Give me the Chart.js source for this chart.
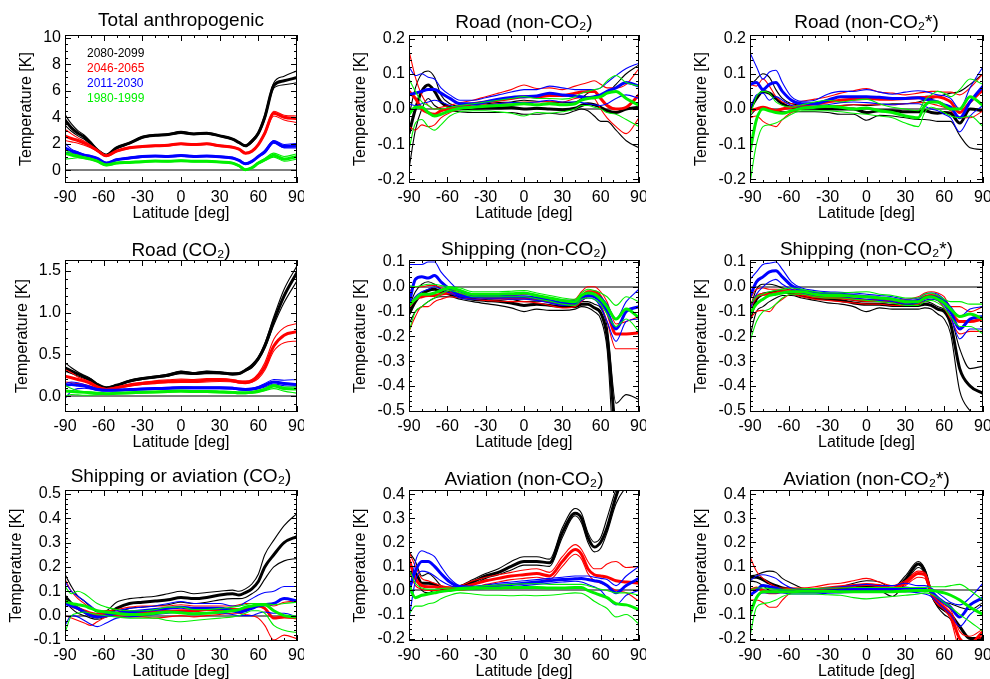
<!DOCTYPE html>
<html>
<head>
<meta charset="utf-8">
<script src="https://cdn.jsdelivr.net/npm/chart.js@4.4.1/dist/chart.umd.min.js"></script>
<style>
  body { margin: 0; background: #fff; }
  #wrap { position: relative; width: 990px; height: 679px; overflow: hidden; background: #fff; }
  #wrap canvas { position: absolute; }
</style>
</head>
<body>
<div id="wrap"></div>
<script>
const LATS = [-90, -85, -80, -75, -70, -65, -58, -50, -40, -30, -20, -10, 0, 10, 20, 30, 40, 45, 50, 55, 60, 65, 72, 80, 90];
const LAT_TICKS = [-90, -60, -30, 0, 30, 60, 90];

const PERIODS = ["2080-2099", "2046-2065", "2011-2030", "1980-1999"];
const PERIOD_COLORS = ["#000000", "#ff0000", "#0000ff", "#00f000"];

// each series: [mean, upper, lower] on LATS
const total_2080 = [
  [3.8, 3.2, 2.8, 2.5, 2.05, 1.55, 1.15, 1.7, 2.05, 2.5, 2.65, 2.7, 2.85, 2.75, 2.8, 2.6, 2.35, 2.1, 1.85, 2.2, 2.8, 4.0, 6.4, 6.75, 7.0],
  [4.2, 3.5, 3.0, 2.65, 2.15, 1.6, 1.2, 1.75, 2.1, 2.55, 2.7, 2.75, 2.95, 2.8, 2.85, 2.65, 2.4, 2.15, 1.9, 2.3, 2.9, 4.2, 6.6, 7.1, 7.5],
  [3.4, 2.95, 2.6, 2.35, 1.95, 1.5, 1.1, 1.65, 2.0, 2.45, 2.6, 2.65, 2.8, 2.7, 2.75, 2.55, 2.3, 2.05, 1.8, 2.1, 2.7, 3.85, 6.2, 6.45, 6.6],
];
const total_2046 = [
  [2.6, 2.4, 2.25, 2.05, 1.8, 1.5, 1.1, 1.45, 1.7, 1.8, 1.85, 1.9, 2.0, 1.95, 2.0, 1.85, 1.75, 1.6, 1.3, 1.45, 1.95, 2.8, 4.3, 4.0, 3.9],
  [3.1, 2.75, 2.45, 2.2, 1.9, 1.55, 1.15, 1.5, 1.75, 1.85, 1.9, 1.95, 2.05, 2.0, 2.05, 1.9, 1.8, 1.65, 1.35, 1.5, 2.0, 2.9, 4.45, 4.15, 4.1],
  [2.25, 2.15, 2.05, 1.9, 1.7, 1.45, 1.05, 1.4, 1.65, 1.75, 1.8, 1.85, 1.95, 1.9, 1.95, 1.8, 1.7, 1.55, 1.25, 1.4, 1.9, 2.7, 4.1, 3.8, 3.6],
];
const total_2011 = [
  [1.7, 1.45, 1.3, 1.15, 1.05, 0.9, 0.55, 0.8, 0.93, 1.05, 1.08, 1.05, 1.12, 1.05, 1.08, 1.03, 0.93, 0.75, 0.5, 0.68, 1.05, 1.4, 2.15, 1.8, 1.85],
  [2.05, 1.6, 1.4, 1.2, 1.1, 0.95, 0.6, 0.85, 0.98, 1.1, 1.12, 1.1, 1.18, 1.1, 1.12, 1.08, 0.98, 0.8, 0.55, 0.72, 1.1, 1.5, 2.25, 1.95, 2.05],
  [1.35, 1.3, 1.2, 1.1, 1.0, 0.85, 0.5, 0.75, 0.88, 1.0, 1.03, 1.0, 1.06, 1.0, 1.03, 0.98, 0.88, 0.7, 0.45, 0.62, 1.0, 1.3, 2.05, 1.7, 1.7],
];
const total_1980 = [
  [1.3, 1.15, 1.05, 0.95, 0.85, 0.7, 0.4, 0.55, 0.6, 0.66, 0.7, 0.68, 0.73, 0.68, 0.68, 0.63, 0.55, 0.35, 0.05, 0.2, 0.55, 0.8, 1.15, 0.85, 1.05],
  [1.55, 1.3, 1.15, 1.0, 0.9, 0.75, 0.45, 0.6, 0.65, 0.7, 0.74, 0.72, 0.77, 0.72, 0.72, 0.67, 0.6, 0.4, 0.1, 0.25, 0.62, 0.9, 1.3, 1.05, 1.25],
  [0.85, 0.9, 0.95, 0.9, 0.8, 0.65, 0.35, 0.5, 0.55, 0.62, 0.66, 0.64, 0.69, 0.64, 0.64, 0.59, 0.5, 0.3, 0.02, 0.15, 0.48, 0.72, 1.0, 0.7, 0.85],
];

const roadNon_2080 = [
  [-0.07, 0.0, 0.05, 0.068, 0.05, 0.02, 0.005, 0.0, 0.002, 0.003, 0.003, 0.004, 0.0, 0.002, 0.0, -0.002, 0.002, 0.01, 0.015, 0.012, 0.005, -0.005, -0.01, 0.0, 0.005],
  [-0.02, 0.06, 0.1, 0.108, 0.09, 0.04, 0.015, 0.008, 0.012, 0.015, 0.018, 0.02, 0.025, 0.022, 0.02, 0.018, 0.02, 0.03, 0.045, 0.05, 0.035, 0.045, 0.07, 0.1, 0.125],
  [-0.17, -0.06, 0.0, 0.03, 0.01, 0.0, -0.005, -0.008, -0.01, -0.01, -0.01, -0.01, -0.015, -0.015, -0.012, -0.015, -0.005, 0.0, -0.005, -0.02, -0.035, -0.035, -0.06, -0.09, -0.11],
];
const roadNon_2046 = [
  [0.05, 0.03, 0.0, -0.01, -0.015, -0.005, 0.0, 0.008, 0.015, 0.02, 0.025, 0.03, 0.035, 0.035, 0.038, 0.038, 0.045, 0.048, 0.05, 0.05, 0.03, 0.01, 0.0, 0.005, 0.04],
  [0.165, 0.09, 0.04, 0.01, 0.0, 0.005, 0.01, 0.018, 0.025, 0.035, 0.045, 0.055, 0.068, 0.058, 0.06, 0.055, 0.065, 0.07, 0.075, 0.08, 0.07, 0.06, 0.06, 0.07, 0.115],
  [-0.05, -0.06, -0.045, -0.05, -0.045, -0.025, -0.01, 0.0, 0.008, 0.012, 0.015, 0.018, 0.02, 0.02, 0.022, 0.02, 0.03, 0.033, 0.035, 0.03, 0.0, -0.025, -0.05, -0.07, -0.025],
];
const roadNon_2011 = [
  [0.04, 0.045, 0.05, 0.055, 0.055, 0.045, 0.03, 0.015, 0.015, 0.02, 0.028, 0.033, 0.035, 0.037, 0.045, 0.04, 0.037, 0.035, 0.032, 0.035, 0.04, 0.05, 0.06, 0.075, 0.065],
  [0.12, 0.095, 0.1, 0.09, 0.085, 0.06, 0.04, 0.025, 0.025, 0.032, 0.04, 0.048, 0.055, 0.055, 0.065, 0.06, 0.055, 0.055, 0.055, 0.055, 0.06, 0.075, 0.095, 0.115, 0.13],
  [0.015, 0.01, 0.015, 0.02, 0.025, 0.02, 0.01, 0.005, 0.008, 0.01, 0.015, 0.018, 0.018, 0.02, 0.025, 0.02, 0.02, 0.018, 0.015, 0.012, 0.01, 0.015, 0.03, 0.04, 0.03],
];
const roadNon_1980 = [
  [-0.015, 0.005, 0.005, -0.01, -0.02, -0.015, -0.005, 0.002, 0.005, 0.008, 0.01, 0.012, 0.015, 0.012, 0.015, 0.012, 0.015, 0.025, 0.03, 0.032, 0.035, 0.045, 0.05, 0.03, 0.01],
  [0.085, 0.05, 0.02, 0.01, 0.0, 0.0, 0.005, 0.01, 0.015, 0.02, 0.025, 0.03, 0.035, 0.03, 0.03, 0.028, 0.035, 0.045, 0.05, 0.055, 0.06, 0.08, 0.095, 0.075, 0.065],
  [-0.115, -0.04, -0.03, -0.05, -0.06, -0.045, -0.02, -0.008, -0.005, -0.005, -0.008, -0.012, -0.02, -0.01, -0.012, -0.008, 0.0, 0.01, 0.01, 0.005, 0.0, -0.01, -0.015, -0.03, -0.05],
];

const roadNonStar_2080 = [
  [0.0, 0.03, 0.05, 0.045, 0.03, 0.015, 0.005, 0.003, 0.002, 0.0, 0.0, 0.0, -0.01, -0.005, -0.005, -0.008, -0.008, -0.005, -0.01, -0.012, -0.01, -0.012, -0.04, 0.0, -0.005],
  [0.065, 0.085, 0.1, 0.09, 0.055, 0.03, 0.015, 0.012, 0.012, 0.01, 0.01, 0.012, 0.01, 0.012, 0.015, 0.015, 0.02, 0.025, 0.03, 0.035, 0.04, 0.045, 0.05, 0.07, 0.1],
  [-0.02, 0.0, 0.005, 0.0, -0.005, -0.008, -0.008, -0.008, -0.008, -0.01, -0.015, -0.015, -0.032, -0.018, -0.02, -0.025, -0.03, -0.03, -0.032, -0.035, -0.035, -0.035, -0.075, -0.11, -0.115],
];
const roadNonStar_2046 = [
  [-0.005, 0.0, 0.005, 0.0, -0.005, 0.0, 0.005, 0.01, 0.015, 0.02, 0.025, 0.028, 0.03, 0.028, 0.028, 0.03, 0.032, 0.033, 0.035, 0.035, 0.03, 0.02, -0.01, 0.02, 0.055],
  [0.07, 0.065, 0.085, 0.065, 0.035, 0.02, 0.015, 0.022, 0.028, 0.035, 0.045, 0.052, 0.058, 0.048, 0.045, 0.04, 0.045, 0.048, 0.05, 0.05, 0.048, 0.048, 0.04, 0.06, 0.1],
  [-0.025, -0.02, -0.035, -0.045, -0.05, -0.03, -0.01, 0.0, 0.005, 0.008, 0.01, 0.012, 0.012, 0.012, 0.012, 0.015, 0.018, 0.018, 0.015, 0.01, 0.005, -0.005, -0.025, -0.025, -0.005],
];
const roadNonStar_2011 = [
  [0.07, 0.075, 0.055, 0.07, 0.075, 0.05, 0.025, 0.015, 0.015, 0.025, 0.035, 0.035, 0.035, 0.033, 0.03, 0.03, 0.032, 0.028, 0.025, 0.02, 0.012, 0.005, -0.025, 0.02, 0.065],
  [0.16, 0.12, 0.085, 0.105, 0.11, 0.075, 0.035, 0.022, 0.025, 0.042, 0.05, 0.05, 0.055, 0.048, 0.042, 0.048, 0.052, 0.05, 0.045, 0.04, 0.038, 0.03, 0.0, 0.06, 0.12],
  [0.0, 0.04, 0.045, 0.025, 0.035, 0.025, 0.01, 0.005, 0.008, 0.012, 0.018, 0.02, 0.018, 0.015, 0.012, 0.015, 0.015, 0.008, 0.0, -0.005, -0.015, -0.025, -0.065, -0.02, 0.01],
];
const roadNonStar_1980 = [
  [-0.12, -0.03, 0.0, -0.005, -0.01, -0.012, -0.005, 0.002, 0.005, 0.008, 0.005, 0.0, 0.003, -0.005, -0.01, -0.02, -0.025, 0.01, 0.02, 0.02, 0.01, 0.0, 0.0, 0.035, 0.01],
  [-0.02, 0.035, 0.05, 0.045, 0.02, 0.01, 0.005, 0.012, 0.02, 0.025, 0.02, 0.025, 0.028, 0.015, 0.005, 0.0, -0.005, 0.025, 0.04, 0.05, 0.045, 0.035, 0.055, 0.085, 0.07],
  [-0.21, -0.1, -0.05, -0.045, -0.04, -0.03, -0.015, -0.005, -0.005, -0.005, -0.008, -0.012, -0.015, -0.02, -0.025, -0.04, -0.05, -0.01, 0.005, 0.0, -0.01, -0.02, -0.025, -0.02, -0.05],
];

const roadCo2_2080 = [
  [0.34, 0.3, 0.265, 0.23, 0.195, 0.14, 0.1, 0.13, 0.18, 0.21, 0.23, 0.25, 0.285, 0.27, 0.285, 0.28, 0.265, 0.27, 0.31, 0.36, 0.45, 0.6, 0.9, 1.2, 1.48],
  [0.4, 0.34, 0.29, 0.25, 0.21, 0.15, 0.105, 0.135, 0.19, 0.22, 0.24, 0.265, 0.3, 0.28, 0.3, 0.29, 0.275, 0.28, 0.32, 0.38, 0.47, 0.63, 0.95, 1.28, 1.56],
  [0.3, 0.27, 0.24, 0.21, 0.18, 0.13, 0.09, 0.12, 0.17, 0.2, 0.22, 0.24, 0.27, 0.26, 0.27, 0.27, 0.255, 0.26, 0.3, 0.34, 0.43, 0.57, 0.85, 1.12, 1.38],
];
const roadCo2_2046 = [
  [0.24, 0.22, 0.2, 0.18, 0.15, 0.11, 0.08, 0.1, 0.13, 0.15, 0.165, 0.175, 0.185, 0.185, 0.19, 0.195, 0.185, 0.17, 0.165, 0.18, 0.24, 0.35, 0.6, 0.73, 0.77],
  [0.32, 0.28, 0.23, 0.2, 0.17, 0.12, 0.09, 0.11, 0.145, 0.165, 0.185, 0.195, 0.205, 0.2, 0.21, 0.21, 0.2, 0.185, 0.18, 0.2, 0.27, 0.4, 0.68, 0.82, 0.87],
  [0.17, 0.16, 0.15, 0.14, 0.12, 0.09, 0.07, 0.09, 0.12, 0.14, 0.15, 0.16, 0.165, 0.165, 0.17, 0.175, 0.17, 0.155, 0.15, 0.165, 0.21, 0.31, 0.54, 0.64, 0.66],
];
const roadCo2_2011 = [
  [0.13, 0.14, 0.13, 0.12, 0.1, 0.08, 0.07, 0.07, 0.08, 0.085, 0.09, 0.095, 0.1, 0.1, 0.1, 0.1, 0.095, 0.085, 0.08, 0.085, 0.1, 0.13, 0.17, 0.15, 0.14],
  [0.15, 0.17, 0.16, 0.14, 0.115, 0.09, 0.075, 0.078, 0.088, 0.093, 0.1, 0.105, 0.112, 0.11, 0.11, 0.11, 0.105, 0.095, 0.09, 0.095, 0.115, 0.15, 0.2, 0.19, 0.2],
  [-0.03, 0.06, 0.09, 0.095, 0.085, 0.07, 0.062, 0.062, 0.07, 0.075, 0.08, 0.085, 0.088, 0.088, 0.09, 0.09, 0.085, 0.075, 0.07, 0.075, 0.09, 0.11, 0.145, 0.125, 0.12],
];
const roadCo2_1980 = [
  [0.06, 0.055, 0.05, 0.045, 0.04, 0.035, 0.03, 0.035, 0.04, 0.045, 0.05, 0.055, 0.06, 0.055, 0.055, 0.05, 0.045, 0.04, 0.04, 0.045, 0.06, 0.08, 0.12, 0.09, 0.085],
  [0.13, 0.09, 0.065, 0.055, 0.05, 0.042, 0.036, 0.04, 0.046, 0.052, 0.058, 0.063, 0.068, 0.063, 0.063, 0.058, 0.052, 0.047, 0.047, 0.053, 0.07, 0.095, 0.14, 0.11, 0.11],
  [0.0, 0.02, 0.015, 0.01, 0.012, 0.018, 0.02, 0.025, 0.03, 0.035, 0.04, 0.045, 0.05, 0.045, 0.045, 0.04, 0.035, 0.03, 0.03, 0.035, 0.045, 0.065, 0.09, 0.06, 0.035],
];

const shipNon_2080 = [
  [-0.11, -0.06, -0.03, -0.015, -0.01, -0.02, -0.03, -0.04, -0.05, -0.055, -0.058, -0.065, -0.075, -0.07, -0.075, -0.08, -0.08, -0.07, -0.07, -0.085, -0.105, -0.2, -0.6, -0.75, -0.75],
  [-0.08, -0.02, 0.01, 0.02, 0.01, -0.01, -0.02, -0.03, -0.04, -0.045, -0.048, -0.05, -0.06, -0.058, -0.06, -0.068, -0.07, -0.06, -0.06, -0.07, -0.085, -0.16, -0.47, -0.435, -0.455],
  [-0.15, -0.1, -0.08, -0.06, -0.045, -0.04, -0.04, -0.05, -0.06, -0.068, -0.075, -0.085, -0.1, -0.09, -0.095, -0.095, -0.09, -0.08, -0.085, -0.1, -0.13, -0.25, -0.75, -0.8, -0.8],
];
const shipNon_2046 = [
  [-0.08, -0.05, -0.04, -0.035, -0.035, -0.03, -0.025, -0.03, -0.04, -0.042, -0.045, -0.048, -0.045, -0.05, -0.06, -0.07, -0.065, -0.04, -0.02, -0.02, -0.04, -0.1, -0.19, -0.19, -0.185],
  [-0.02, 0.0, 0.0, 0.005, 0.005, -0.005, -0.01, -0.02, -0.03, -0.032, -0.035, -0.035, -0.03, -0.035, -0.045, -0.055, -0.05, -0.02, 0.0, 0.0, -0.02, -0.06, -0.15, -0.14, -0.12],
  [-0.18, -0.12, -0.08, -0.08, -0.06, -0.05, -0.04, -0.045, -0.05, -0.055, -0.058, -0.06, -0.06, -0.065, -0.075, -0.085, -0.08, -0.06, -0.04, -0.04, -0.07, -0.14, -0.25, -0.25, -0.25],
];
const shipNon_2011 = [
  [-0.07, 0.03, 0.04, 0.035, 0.045, 0.02, -0.01, -0.035, -0.04, -0.038, -0.038, -0.04, -0.04, -0.045, -0.055, -0.065, -0.065, -0.045, -0.035, -0.04, -0.06, -0.1, -0.17, -0.1, -0.08],
  [0.09, 0.09, 0.09, 0.1, 0.1, 0.06, 0.02, -0.02, -0.03, -0.028, -0.028, -0.028, -0.028, -0.033, -0.045, -0.055, -0.055, -0.035, -0.025, -0.03, -0.04, -0.07, -0.13, -0.06, -0.01],
  [-0.08, -0.04, -0.02, -0.01, 0.0, -0.01, -0.025, -0.045, -0.05, -0.048, -0.048, -0.05, -0.05, -0.055, -0.065, -0.075, -0.075, -0.055, -0.045, -0.05, -0.08, -0.14, -0.22, -0.14, -0.13],
];
const shipNon_1980 = [
  [-0.075, -0.05, -0.03, -0.03, -0.025, -0.015, -0.005, -0.015, -0.03, -0.03, -0.03, -0.028, -0.025, -0.035, -0.045, -0.055, -0.06, -0.035, -0.025, -0.03, -0.05, -0.08, -0.13, -0.09, -0.125],
  [0.005, 0.0, 0.005, 0.01, 0.01, 0.005, 0.0, -0.005, -0.02, -0.02, -0.02, -0.018, -0.015, -0.025, -0.035, -0.045, -0.05, -0.025, -0.01, -0.015, -0.025, -0.04, -0.075, -0.04, -0.06],
  [-0.18, -0.1, -0.08, -0.06, -0.045, -0.03, -0.015, -0.025, -0.04, -0.04, -0.04, -0.04, -0.04, -0.048, -0.058, -0.07, -0.075, -0.05, -0.045, -0.05, -0.07, -0.11, -0.16, -0.13, -0.18],
];

const shipNonStar_2080 = [
  [-0.13, -0.05, -0.03, -0.025, -0.02, -0.02, -0.025, -0.035, -0.045, -0.05, -0.055, -0.065, -0.07, -0.07, -0.075, -0.075, -0.075, -0.07, -0.075, -0.09, -0.1, -0.15, -0.33, -0.4, -0.43],
  [-0.09, -0.01, 0.01, 0.01, 0.005, -0.005, -0.015, -0.025, -0.035, -0.04, -0.045, -0.055, -0.06, -0.06, -0.065, -0.07, -0.065, -0.06, -0.065, -0.08, -0.09, -0.12, -0.25, -0.33, -0.32],
  [-0.2, -0.1, -0.08, -0.06, -0.045, -0.035, -0.035, -0.045, -0.055, -0.065, -0.07, -0.08, -0.1, -0.085, -0.09, -0.09, -0.09, -0.085, -0.09, -0.11, -0.13, -0.19, -0.42, -0.5, -0.56],
];
const shipNonStar_2046 = [
  [-0.08, -0.04, -0.03, -0.03, -0.025, -0.02, -0.02, -0.03, -0.04, -0.042, -0.045, -0.05, -0.055, -0.055, -0.06, -0.06, -0.055, -0.04, -0.035, -0.04, -0.06, -0.1, -0.14, -0.14, -0.13],
  [-0.05, -0.01, -0.005, -0.01, -0.01, -0.01, -0.01, -0.02, -0.028, -0.03, -0.032, -0.035, -0.04, -0.045, -0.05, -0.05, -0.04, -0.025, -0.02, -0.025, -0.04, -0.08, -0.08, -0.1, -0.08],
  [-0.13, -0.1, -0.095, -0.1, -0.07, -0.05, -0.03, -0.04, -0.05, -0.055, -0.06, -0.065, -0.07, -0.07, -0.075, -0.075, -0.07, -0.055, -0.05, -0.055, -0.085, -0.13, -0.19, -0.18, -0.18],
];
const shipNonStar_2011 = [
  [-0.04, 0.02, 0.04, 0.06, 0.065, 0.04, 0.005, -0.015, -0.025, -0.028, -0.03, -0.035, -0.04, -0.045, -0.05, -0.06, -0.055, -0.045, -0.04, -0.045, -0.06, -0.1, -0.17, -0.13, -0.12],
  [0.03, 0.06, 0.09, 0.095, 0.1, 0.07, 0.02, -0.005, -0.015, -0.02, -0.022, -0.025, -0.03, -0.035, -0.04, -0.05, -0.045, -0.03, -0.025, -0.03, -0.05, -0.08, -0.12, -0.09, -0.08],
  [-0.09, -0.03, 0.0, 0.02, 0.03, 0.01, -0.01, -0.025, -0.035, -0.038, -0.04, -0.045, -0.05, -0.055, -0.06, -0.07, -0.065, -0.055, -0.05, -0.055, -0.075, -0.12, -0.21, -0.17, -0.17],
];
const shipNonStar_1980 = [
  [-0.11, -0.07, -0.05, -0.035, -0.03, -0.025, -0.02, -0.02, -0.03, -0.035, -0.035, -0.038, -0.04, -0.045, -0.05, -0.06, -0.06, -0.045, -0.04, -0.05, -0.065, -0.09, -0.12, -0.11, -0.13],
  [-0.07, -0.04, -0.03, -0.02, -0.015, -0.01, -0.005, -0.01, -0.02, -0.025, -0.025, -0.022, -0.02, -0.03, -0.035, -0.045, -0.045, -0.03, -0.025, -0.035, -0.05, -0.06, -0.06, -0.07, -0.07],
  [-0.22, -0.14, -0.1, -0.09, -0.07, -0.045, -0.03, -0.03, -0.04, -0.045, -0.045, -0.05, -0.055, -0.06, -0.065, -0.075, -0.075, -0.06, -0.055, -0.065, -0.085, -0.12, -0.16, -0.16, -0.19],
];

const shipAvCo2_2080 = [
  [0.08, 0.05, 0.03, 0.015, 0.0, -0.005, 0.005, 0.03, 0.05, 0.055, 0.06, 0.065, 0.075, 0.07, 0.075, 0.085, 0.09, 0.085, 0.095, 0.11, 0.14, 0.2, 0.25, 0.3, 0.325],
  [0.17, 0.12, 0.08, 0.06, 0.035, 0.015, 0.02, 0.055, 0.07, 0.075, 0.08, 0.09, 0.1, 0.09, 0.095, 0.1, 0.105, 0.1, 0.11, 0.13, 0.17, 0.25, 0.31, 0.37, 0.42],
  [0.06, 0.03, 0.01, 0.0, -0.01, -0.015, -0.005, 0.01, 0.03, 0.035, 0.04, 0.045, 0.055, 0.05, 0.055, 0.065, 0.07, 0.07, 0.075, 0.09, 0.11, 0.15, 0.2, 0.225, 0.235],
];
const shipAvCo2_2046 = [
  [0.06, 0.04, 0.03, 0.02, 0.01, 0.005, 0.005, 0.01, 0.015, 0.015, 0.015, 0.018, 0.02, 0.02, 0.025, 0.025, 0.025, 0.025, 0.03, 0.035, 0.04, 0.03, -0.01, -0.005, -0.01],
  [0.15, 0.1, 0.07, 0.05, 0.03, 0.02, 0.02, 0.025, 0.035, 0.04, 0.04, 0.04, 0.045, 0.04, 0.04, 0.04, 0.04, 0.045, 0.05, 0.05, 0.05, 0.05, 0.04, 0.055, 0.06],
  [0.0, -0.01, -0.02, -0.03, -0.04, -0.025, -0.005, 0.0, -0.005, -0.005, -0.01, -0.005, 0.0, -0.005, 0.0, 0.005, 0.01, 0.01, 0.005, 0.0, -0.01, -0.04, -0.1, -0.08, -0.095],
];
const shipAvCo2_2011 = [
  [0.05, 0.04, 0.03, 0.015, 0.0, -0.005, 0.0, 0.01, 0.015, 0.02, 0.025, 0.03, 0.035, 0.03, 0.03, 0.03, 0.02, 0.015, 0.02, 0.03, 0.04, 0.045, 0.05, 0.07, 0.06],
  [0.14, 0.1, 0.08, 0.06, 0.04, 0.02, 0.01, 0.02, 0.03, 0.035, 0.04, 0.05, 0.058, 0.05, 0.05, 0.05, 0.04, 0.04, 0.055, 0.07, 0.085, 0.095, 0.1, 0.12, 0.12],
  [-0.04, 0.0, -0.005, -0.02, -0.035, -0.045, -0.03, -0.01, -0.005, 0.0, 0.005, 0.01, 0.015, 0.01, 0.01, 0.01, 0.005, 0.0, 0.0, 0.0, 0.01, 0.015, 0.01, 0.01, -0.005],
];
const shipAvCo2_1980 = [
  [0.06, 0.05, 0.045, 0.04, 0.03, 0.02, 0.015, 0.01, 0.005, 0.005, 0.01, 0.015, 0.012, 0.008, 0.01, 0.015, 0.02, 0.025, 0.035, 0.04, 0.045, 0.045, 0.02, 0.0, -0.005],
  [0.12, 0.09, 0.1, 0.09, 0.07, 0.05, 0.035, 0.025, 0.02, 0.02, 0.025, 0.035, 0.035, 0.025, 0.025, 0.03, 0.035, 0.04, 0.045, 0.05, 0.05, 0.05, 0.045, 0.05, 0.055],
  [-0.07, 0.0, 0.01, 0.015, 0.01, 0.005, 0.0, -0.005, -0.01, -0.01, -0.01, -0.02, -0.025, -0.02, -0.015, -0.01, -0.005, 0.0, 0.01, 0.02, 0.02, 0.01, -0.04, -0.06, -0.07],
];

const aviationNon_2080 = [
  [0.07, 0.07, 0.03, 0.03, 0.025, 0.01, 0.005, 0.015, 0.035, 0.06, 0.075, 0.1, 0.12, 0.12, 0.115, 0.24, 0.32, 0.3, 0.22, 0.18, 0.2, 0.26, 0.39, 0.5, 0.6],
  [0.16, 0.12, 0.06, 0.07, 0.05, 0.02, 0.01, 0.02, 0.045, 0.07, 0.09, 0.12, 0.14, 0.14, 0.13, 0.26, 0.34, 0.32, 0.24, 0.2, 0.22, 0.3, 0.42, 0.52, 0.62],
  [0.03, 0.05, 0.0, -0.01, 0.0, 0.0, 0.0, 0.01, 0.025, 0.05, 0.065, 0.085, 0.105, 0.105, 0.1, 0.22, 0.31, 0.28, 0.2, 0.16, 0.175, 0.24, 0.36, 0.43, 0.48],
];
const aviationNon_2046 = [
  [0.13, 0.05, 0.02, 0.015, 0.015, 0.01, 0.008, 0.01, 0.025, 0.04, 0.05, 0.06, 0.065, 0.07, 0.06, 0.12, 0.17, 0.15, 0.09, 0.065, 0.06, 0.055, 0.04, 0.035, 0.03],
  [0.16, 0.1, 0.05, 0.04, 0.03, 0.02, 0.015, 0.02, 0.04, 0.055, 0.065, 0.075, 0.085, 0.09, 0.075, 0.14, 0.19, 0.17, 0.12, 0.09, 0.09, 0.11, 0.12, 0.095, 0.1],
  [0.08, 0.02, 0.005, 0.0, 0.0, 0.0, 0.0, 0.0, 0.01, 0.025, 0.035, 0.045, 0.05, 0.055, 0.045, 0.1, 0.15, 0.13, 0.07, 0.04, 0.03, 0.02, 0.0, -0.01, -0.045],
];
const aviationNon_2011 = [
  [0.0, 0.08, 0.12, 0.12, 0.1, 0.07, 0.035, 0.015, 0.012, 0.015, 0.02, 0.025, 0.03, 0.035, 0.04, 0.045, 0.048, 0.05, 0.045, 0.04, 0.035, 0.02, -0.01, 0.02, 0.05],
  [-0.03, 0.12, 0.165, 0.155, 0.14, 0.1, 0.05, 0.02, 0.018, 0.022, 0.03, 0.035, 0.04, 0.045, 0.05, 0.055, 0.06, 0.06, 0.06, 0.055, 0.05, 0.045, 0.02, 0.06, 0.1],
  [-0.12, 0.04, 0.08, 0.075, 0.06, 0.04, 0.02, 0.008, 0.005, 0.008, 0.012, 0.015, 0.02, 0.025, 0.03, 0.035, 0.038, 0.035, 0.025, 0.015, 0.0, -0.03, -0.06, -0.02, 0.0],
];
const aviationNon_1980 = [
  [0.02, -0.03, -0.02, -0.015, -0.01, -0.005, 0.0, 0.005, 0.008, 0.01, 0.01, 0.012, 0.012, 0.012, 0.01, 0.01, 0.012, 0.012, 0.0, -0.01, -0.02, -0.03, -0.055, -0.06, -0.08],
  [0.09, 0.03, 0.01, 0.005, 0.005, 0.008, 0.01, 0.012, 0.015, 0.02, 0.022, 0.025, 0.028, 0.028, 0.025, 0.025, 0.025, 0.025, 0.02, 0.012, 0.005, 0.0, -0.01, -0.01, -0.02],
  [-0.1, -0.065, -0.065, -0.055, -0.05, -0.035, -0.02, -0.01, -0.015, -0.02, -0.02, -0.022, -0.02, -0.022, -0.02, -0.015, -0.01, -0.012, -0.025, -0.045, -0.06, -0.075, -0.11, -0.1, -0.14],
];

const aviationNonStar_2080 = [
  [0.055, 0.055, 0.045, 0.03, 0.02, 0.01, 0.005, 0.0, 0.0, 0.0, 0.005, 0.01, 0.02, 0.015, 0.005, 0.045, 0.11, 0.08, -0.01, -0.06, -0.08, -0.1, -0.15, -0.2, -0.2],
  [0.06, 0.065, 0.075, 0.08, 0.075, 0.05, 0.03, 0.01, 0.005, 0.005, 0.015, 0.03, 0.04, 0.035, 0.01, 0.06, 0.12, 0.09, 0.0, -0.04, -0.05, -0.055, -0.07, -0.08, -0.05],
  [0.04, 0.035, 0.02, 0.0, -0.005, -0.005, -0.005, -0.008, -0.005, -0.005, -0.005, 0.0, 0.005, 0.0, -0.025, 0.03, 0.095, 0.07, -0.02, -0.07, -0.1, -0.12, -0.2, -0.22, -0.22],
];
const aviationNonStar_2046 = [
  [0.0, 0.01, 0.0, -0.01, -0.01, 0.0, 0.005, 0.005, 0.005, 0.01, 0.015, 0.02, 0.025, 0.02, 0.01, 0.03, 0.07, 0.065, -0.01, -0.05, -0.07, -0.1, -0.2, -0.22, -0.17],
  [0.14, 0.08, 0.05, 0.03, 0.015, 0.01, 0.01, 0.01, 0.015, 0.025, 0.03, 0.04, 0.05, 0.035, 0.02, 0.04, 0.08, 0.075, 0.0, -0.04, -0.06, -0.08, -0.17, -0.19, -0.16],
  [-0.04, -0.04, -0.05, -0.07, -0.07, -0.04, -0.01, -0.005, -0.005, 0.0, 0.0, 0.0, 0.005, 0.0, -0.005, 0.02, 0.055, 0.05, -0.02, -0.06, -0.08, -0.12, -0.24, -0.25, -0.18],
];
const aviationNonStar_2011 = [
  [-0.02, 0.0, 0.02, 0.015, 0.01, 0.0, -0.005, -0.005, -0.005, -0.002, 0.0, 0.005, 0.005, 0.005, 0.005, 0.01, 0.005, 0.005, -0.005, -0.03, -0.05, -0.07, -0.11, -0.06, -0.03],
  [0.04, 0.06, 0.065, 0.06, 0.05, 0.03, 0.01, 0.005, 0.005, 0.01, 0.015, 0.02, 0.025, 0.02, 0.02, 0.03, 0.02, 0.02, 0.01, -0.01, -0.03, -0.05, -0.06, -0.03, 0.03],
  [-0.09, -0.03, -0.01, -0.01, -0.01, -0.01, -0.015, -0.015, -0.015, -0.012, -0.01, -0.008, -0.008, -0.005, -0.005, -0.005, -0.01, -0.015, -0.025, -0.05, -0.075, -0.1, -0.15, -0.1, -0.06],
];
const aviationNonStar_1980 = [
  [-0.1, -0.03, -0.005, -0.005, -0.005, -0.005, -0.005, -0.003, -0.003, -0.003, -0.005, -0.005, -0.005, -0.005, -0.005, -0.003, 0.0, 0.0, 0.0, -0.005, -0.01, -0.02, -0.04, -0.07, -0.1],
  [0.0, 0.01, 0.01, 0.008, 0.005, 0.005, 0.005, 0.007, 0.008, 0.01, 0.01, 0.012, 0.012, 0.012, 0.012, 0.012, 0.012, 0.012, 0.015, 0.015, 0.015, 0.02, 0.025, 0.0, -0.04],
  [-0.19, -0.07, -0.055, -0.05, -0.04, -0.025, -0.015, -0.015, -0.015, -0.018, -0.02, -0.03, -0.035, -0.03, -0.025, -0.02, -0.015, -0.01, -0.015, -0.03, -0.05, -0.07, -0.1, -0.13, -0.17],
];

const Y_TICKS_TOTAL = [0, 2, 4, 6, 8, 10];
const Y_TICKS_SMALL = [-0.2, -0.1, 0.0, 0.1, 0.2];
const Y_TICKS_ROAD_CO2 = [0.0, 0.5, 1.0, 1.5];
const Y_TICKS_SHIP = [-0.5, -0.4, -0.3, -0.2, -0.1, 0.0, 0.1];
const Y_TICKS_CO2 = [-0.1, 0.0, 0.1, 0.2, 0.3, 0.4, 0.5];
const Y_TICKS_AVIATION = [-0.2, -0.1, 0.0, 0.1, 0.2, 0.3, 0.4];

// plot boxes
const COL_LEFT = [65, 409, 750];
const COL_RIGHT = [297, 639, 983];
const ROW_TOP = [35, 260, 490];
const ROW_BOTTOM = [183, 412, 641];

const PANELS = [
  { title: "Total anthropogenic", series: [total_2080, total_2046, total_2011, total_1980], yMin: -0.95, yMax: 10.2, yTicks: Y_TICKS_TOTAL, yMinor: 0.5, digits: 0, titleGap: 9, legend: true },
  { title: "Road (non-CO₂)", series: [roadNon_2080, roadNon_2046, roadNon_2011, roadNon_1980], yMin: -0.21, yMax: 0.21, yTicks: Y_TICKS_SMALL, yMinor: 0.02, digits: 1, titleGap: 7 },
  { title: "Road (non-CO₂*)", series: [roadNonStar_2080, roadNonStar_2046, roadNonStar_2011, roadNonStar_1980], yMin: -0.21, yMax: 0.21, yTicks: Y_TICKS_SMALL, yMinor: 0.02, digits: 1, titleGap: 7 },
  { title: "Road (CO₂)", series: [roadCo2_2080, roadCo2_2046, roadCo2_2011, roadCo2_1980], yMin: -0.19, yMax: 1.63, yTicks: Y_TICKS_ROAD_CO2, yMinor: 0.1, digits: 1, titleGap: 4 },
  { title: "Shipping (non-CO₂)", series: [shipNon_2080, shipNon_2046, shipNon_2011, shipNon_1980], yMin: -0.505, yMax: 0.108, yTicks: Y_TICKS_SHIP, yMinor: 0.02, digits: 1, titleGap: 5 },
  { title: "Shipping (non-CO₂*)", series: [shipNonStar_2080, shipNonStar_2046, shipNonStar_2011, shipNonStar_1980], yMin: -0.505, yMax: 0.108, yTicks: Y_TICKS_SHIP, yMinor: 0.02, digits: 1, titleGap: 5 },
  { title: "Shipping or aviation (CO₂)", series: [shipAvCo2_2080, shipAvCo2_2046, shipAvCo2_2011, shipAvCo2_1980], yMin: -0.104, yMax: 0.516, yTicks: Y_TICKS_CO2, yMinor: 0.02, digits: 1, titleGap: 8 },
  { title: "Aviation (non-CO₂)", series: [aviationNon_2080, aviationNon_2046, aviationNon_2011, aviationNon_1980], yMin: -0.21, yMax: 0.417, yTicks: Y_TICKS_AVIATION, yMinor: 0.02, digits: 1, titleGap: 5.5 },
  { title: "Aviation (non-CO₂*)", series: [aviationNonStar_2080, aviationNonStar_2046, aviationNonStar_2011, aviationNonStar_1980], yMin: -0.21, yMax: 0.417, yTicks: Y_TICKS_AVIATION, yMinor: 0.02, digits: 1, titleGap: 5 },
];

const FONT = "'Liberation Sans', Arial, Helvetica, sans-serif";
const PAD_LEFT = 62, PAD_TOP = 34, PAD_RIGHT = 7, PAD_BOTTOM = 45;

function buildDatasets(p) {
  const sets = [];
  // green first so it ends up on top (Chart.js draws dataset 0 last)
  for (let c = 3; c >= 0; c--) {
    const [mean, upper, lower] = p.series[c];
    [mean, upper, lower].forEach((vals, k) => {
      sets.push({
        data: LATS.map((lat, i) => ({ x: lat, y: vals[i] })),
        borderColor: PERIOD_COLORS[c],
        borderWidth: k === 0 ? 3 : 1.1,
        pointRadius: 0,
        cubicInterpolationMode: "monotone",
        borderJoinStyle: "round",
        fill: false,
      });
    });
  }
  return sets;
}

function idlFrame(p) {
  return {
    id: "idlFrame",
    beforeDatasetsDraw(chart) {
      const { ctx, chartArea: a, scales } = chart;
      const y0 = Math.round(scales.y.getPixelForValue(0));
      ctx.save();
      ctx.strokeStyle = "#555";
      ctx.lineWidth = 1.5;
      ctx.beginPath();
      ctx.moveTo(a.left, y0);
      ctx.lineTo(a.right, y0);
      ctx.stroke();
      ctx.restore();
    },
    afterDraw(chart) {
      const { ctx, chartArea: a, scales } = chart;
      const x = scales.x, y = scales.y;
      ctx.save();
      ctx.strokeStyle = "#000";
      ctx.lineWidth = 1;
      ctx.strokeRect(a.left + 0.5, a.top + 0.5, a.right - a.left - 1, a.bottom - a.top - 1);

      ctx.beginPath();
      for (let v = -90; v <= 90; v += 10) {
        const px = Math.round(x.getPixelForValue(v)) + 0.5;
        const len = v % 30 === 0 ? 6 : 3;
        ctx.moveTo(px, a.bottom);
        ctx.lineTo(px, a.bottom - len);
        ctx.moveTo(px, a.top);
        ctx.lineTo(px, a.top + len);
      }
      const n0 = Math.ceil(p.yMin / p.yMinor - 1e-6);
      const n1 = Math.floor(p.yMax / p.yMinor + 1e-6);
      for (let n = n0; n <= n1; n++) {
        const v = n * p.yMinor;
        const major = p.yTicks.some((t) => Math.abs(t - v) < 1e-6);
        const len = major ? 6 : 3;
        const py = Math.round(y.getPixelForValue(v)) + 0.5;
        ctx.moveTo(a.left, py);
        ctx.lineTo(a.left + len, py);
        ctx.moveTo(a.right, py);
        ctx.lineTo(a.right - len, py);
      }
      ctx.stroke();

      ctx.fillStyle = "#000";
      // panel title
      ctx.font = `19px ${FONT}`;
      ctx.textAlign = "center";
      ctx.textBaseline = "alphabetic";
      ctx.fillText(p.title, (a.left + a.right) / 2, a.top - p.titleGap);

      // x axis title
      ctx.font = `16px ${FONT}`;
      ctx.fillText("Latitude [deg]", (a.left + a.right) / 2, a.bottom + 35);

      // y axis title, placed left of the widest tick label
      let maxW = 0;
      y.ticks.forEach((t) => {
        maxW = Math.max(maxW, ctx.measureText(String(t.label)).width);
      });
      ctx.translate(a.left - 4 - maxW - 16.5, (a.top + a.bottom) / 2);
      ctx.rotate(-Math.PI / 2);
      ctx.textBaseline = "middle";
      ctx.fillText("Temperature [K]", 0, 0);
      ctx.restore();

      if (p.legend) {
        ctx.save();
        ctx.font = `12px ${FONT}`;
        ctx.textAlign = "left";
        ctx.textBaseline = "middle";
        PERIODS.forEach((label, i) => {
          ctx.fillStyle = PERIOD_COLORS[i];
          ctx.fillText(label, a.left + 22, a.top + 18.5 + i * 15);
        });
        ctx.restore();
      }
    },
  };
}

const wrap = document.getElementById("wrap");

PANELS.forEach((p, idx) => {
  const col = idx % 3, row = Math.floor(idx / 3);
  const left = COL_LEFT[col], right = COL_RIGHT[col];
  const top = ROW_TOP[row], bottom = ROW_BOTTOM[row];

  const canvas = document.createElement("canvas");
  const w = right - left + PAD_LEFT + PAD_RIGHT;
  const h = bottom - top + PAD_TOP + PAD_BOTTOM;
  canvas.width = w;
  canvas.height = h;
  canvas.style.width = w + "px";
  canvas.style.height = h + "px";
  canvas.style.left = left - PAD_LEFT + "px";
  canvas.style.top = top - PAD_TOP + "px";
  wrap.appendChild(canvas);

  new Chart(canvas.getContext("2d"), {
    type: "line",
    data: { datasets: buildDatasets(p) },
    options: {
      responsive: false,
      animation: false,
      events: [],
      layout: { padding: { left: 0, top: PAD_TOP, right: PAD_RIGHT, bottom: 0 } },
      plugins: {
        legend: { display: false },
        tooltip: { enabled: false },
        title: { display: false },
      },
      scales: {
        x: {
          type: "linear",
          min: -90,
          max: 90,
          grid: { display: false, drawTicks: false },
          border: { display: false },
          afterBuildTicks: (s) => {
            s.ticks = LAT_TICKS.map((v) => ({ value: v }));
          },
          afterFit: (s) => {
            s.height = PAD_BOTTOM;
            s.paddingLeft = 0;
            s.paddingRight = 0;
          },
          ticks: {
            autoSkip: false,
            maxRotation: 0,
            minRotation: 0,
            padding: 5,
            color: "#000",
            font: { family: FONT, size: 16 },
            callback: (v) => String(v),
          },
        },
        y: {
          type: "linear",
          min: p.yMin,
          max: p.yMax,
          grid: { display: false, drawTicks: false },
          border: { display: false },
          afterBuildTicks: (s) => {
            s.ticks = p.yTicks.map((v) => ({ value: v }));
          },
          afterFit: (s) => {
            s.width = PAD_LEFT;
            s.paddingTop = 0;
            s.paddingBottom = 0;
          },
          ticks: {
            autoSkip: false,
            padding: 4,
            color: "#000",
            font: { family: FONT, size: 16 },
            callback: (v) => (Math.abs(v) < 1e-9 ? 0 : v).toFixed(p.digits),
          },
        },
      },
    },
    plugins: [idlFrame(p)],
  });
});
</script>
</body>
</html>
